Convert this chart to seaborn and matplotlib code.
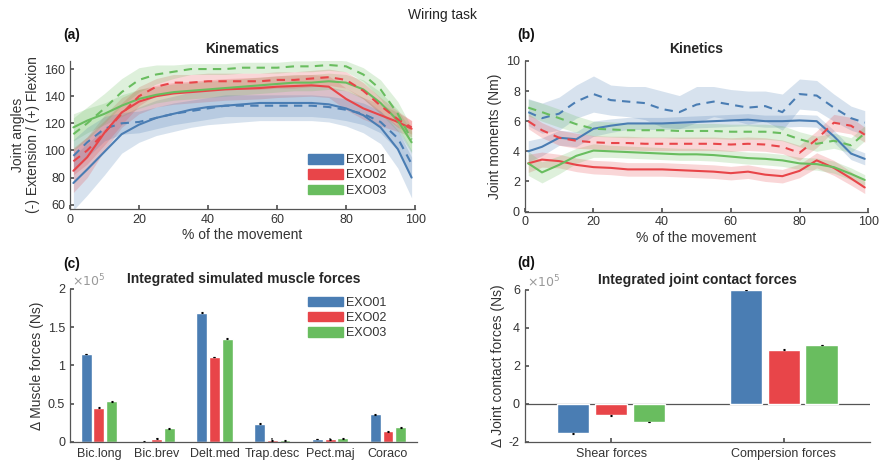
import numpy as np
import pandas as pd
import seaborn as sns
import matplotlib.pyplot as plt
from matplotlib.patches import Patch
from matplotlib.ticker import FuncFormatter

# ---- data ----
devices = ["EXO01", "EXO02", "EXO03"]
colors = ["#4a7db3", "#e84549", "#69bd5f"]

pct = [1, 5, 10, 15, 20, 25, 30, 35, 40, 45, 50, 55, 60, 65, 70, 75, 80, 85, 90, 95, 99]

# (a) kinematics, joint angles (deg): solid / dashed mean and band half width
kin_exo01 = [76, 86, 99, 112, 119, 124, 127, 130, 132, 133, 134, 135, 135, 135, 135, 134, 131, 126, 117, 101, 80]
kin_exo01_d = [96, 106, 116, 120, 121, 124, 127, 129, 131, 133, 133, 133, 133, 133, 133, 132, 130, 127, 121, 109, 90]
kin_exo02 = [85, 95, 113, 128, 136, 140, 142, 143, 144, 145, 145.5, 146, 147, 147.5, 148, 147, 138, 131, 126, 121, 116]
kin_exo02_d = [92, 100, 113, 127, 140, 147, 150, 150, 151, 151, 151, 151, 152, 152, 153, 154, 152, 144, 133, 123, 117]
kin_exo03 = [117, 122, 127, 133, 138, 141, 143, 144, 145, 146, 147, 148, 149, 150, 150, 151, 150, 145, 135, 122, 106]
kin_exo03_d = [112, 120, 131, 143, 152, 156, 158, 160, 160, 160, 161, 161, 161, 162, 162, 163, 162, 156, 145, 127, 108]

kin_sd01 = [20, 19, 17, 14, 13, 13, 13, 13, 13, 13, 13, 13, 13, 13, 13, 13, 13, 13, 12, 14, 15]
kin_sd01_d = [12, 11, 9, 8, 8, 8, 8, 8, 8, 8, 8, 8, 8, 8, 8, 8, 8, 8, 8, 9, 10]
kin_sd02 = [16, 15, 13, 11, 9, 8, 8, 8, 8, 8, 8, 8, 8, 8, 8, 8, 8, 8, 8, 7, 6]
kin_sd02_d = [10, 10, 9, 8, 7, 6, 6, 6, 6, 6, 6, 6, 6, 6, 6, 6, 6, 6, 6, 6, 5]
kin_sd03 = [10, 9, 8, 8, 7, 6, 6, 6, 6, 6, 6, 6, 6, 6, 6, 6, 6, 7, 8, 8, 8]
kin_sd03_d = [12, 12, 11, 10, 9, 7, 5, 4, 4, 4, 4, 4, 4, 4, 4, 4, 4, 5, 7, 9, 9]

# (b) kinetics, joint moments (Nm)
mom_exo01 = [4.0, 4.3, 4.9, 4.8, 5.5, 5.7, 5.85, 5.85, 5.85, 5.9, 5.95, 6.0, 6.05, 6.1, 6.0, 6.0, 6.05, 6.0, 5.0, 3.85, 3.5]
mom_exo01_d = [6.6, 6.2, 6.5, 7.3, 7.8, 7.4, 7.3, 7.2, 6.8, 6.6, 7.1, 7.3, 7.1, 6.9, 7.0, 6.6, 7.8, 7.7, 6.9, 6.2, 5.9]
mom_exo02 = [3.2, 3.45, 3.35, 3.1, 2.95, 2.9, 2.8, 2.8, 2.8, 2.75, 2.7, 2.65, 2.55, 2.65, 2.45, 2.35, 2.7, 3.4, 2.9, 2.2, 1.6]
mom_exo02_d = [6.0, 5.4, 4.9, 4.7, 4.6, 4.55, 4.55, 4.5, 4.5, 4.5, 4.5, 4.5, 4.45, 4.5, 4.45, 4.3, 3.9, 4.8, 5.9, 5.7, 5.1]
mom_exo03 = [3.2, 2.6, 3.1, 3.7, 4.05, 4.0, 3.95, 3.9, 3.85, 3.8, 3.8, 3.75, 3.65, 3.55, 3.5, 3.4, 3.2, 3.15, 2.95, 2.5, 2.1]
mom_exo03_d = [6.9, 6.6, 6.2, 5.8, 5.5, 5.45, 5.4, 5.4, 5.4, 5.35, 5.35, 5.35, 5.3, 5.3, 5.3, 5.2, 4.8, 4.5, 4.7, 4.4, 5.2]

mom_sd01 = [0.7, 0.6, 0.5, 0.5, 0.5, 0.45, 0.4, 0.4, 0.4, 0.4, 0.4, 0.4, 0.4, 0.4, 0.4, 0.4, 0.4, 0.4, 0.4, 0.4, 0.4]
mom_sd01_d = [0.9, 1.0, 1.1, 1.1, 1.2, 1.0, 1.0, 1.1, 1.2, 1.1, 1.2, 1.0, 1.0, 1.1, 1.0, 1.2, 1.0, 1.0, 0.9, 0.8, 0.8]
mom_sd02 = [0.6, 0.5, 0.45, 0.45, 0.45, 0.45, 0.45, 0.45, 0.45, 0.45, 0.45, 0.45, 0.45, 0.45, 0.45, 0.45, 0.45, 0.5, 0.5, 0.45, 0.4]
mom_sd02_d = [0.5, 0.5, 0.5, 0.5, 0.45, 0.45, 0.45, 0.45, 0.45, 0.45, 0.45, 0.45, 0.45, 0.45, 0.45, 0.45, 0.5, 0.55, 0.55, 0.55, 0.5]
mom_sd03 = [0.8, 0.7, 0.6, 0.5, 0.45, 0.4, 0.4, 0.4, 0.4, 0.4, 0.4, 0.4, 0.4, 0.4, 0.4, 0.4, 0.4, 0.4, 0.4, 0.4, 0.35]
mom_sd03_d = [0.55, 0.6, 0.6, 0.55, 0.5, 0.5, 0.5, 0.5, 0.5, 0.5, 0.5, 0.5, 0.5, 0.5, 0.5, 0.5, 0.5, 0.5, 0.5, 0.5, 0.5]

# (c) integrated muscle forces (x1e5 Ns)
muscles = ["Bic.long", "Bic.brev", "Delt.med", "Trap.desc", "Pect.maj", "Coraco"]
musc_exo01 = [1.15, 0.005, 1.69, 0.24, 0.04, 0.36]
musc_exo02 = [0.45, 0.045, 1.11, 0.02, 0.035, 0.14]
musc_exo03 = [0.53, 0.18, 1.35, 0.02, 0.05, 0.19]
musc_err = [0.005, 0.005, 0.005, 0.005, 0.005, 0.005]

# (d) integrated joint contact forces (x1e5 Ns)
contacts = ["Shear forces", "Compersion forces"]
cont_exo01 = [-1.55, 6.0]
cont_exo02 = [-0.6, 2.85]
cont_exo03 = [-0.95, 3.1]
cont_err = [0.02, 0.02]

# ---- style ----
sns.set_theme(style="ticks")
plt.rcParams["font.family"] = ["Liberation Sans", "DejaVu Sans"]
axcol = "#555555"
txtcol = "#333333"
plt.rcParams.update({
    "font.size": 10,
    "axes.labelsize": 10,
    "axes.titlesize": 10,
    "legend.fontsize": 9,
    "axes.edgecolor": axcol,
    "axes.labelcolor": txtcol,
    "xtick.color": axcol,
    "ytick.color": axcol,
    "xtick.labelcolor": txtcol,
    "ytick.labelcolor": txtcol,
    "xtick.labelsize": 9,
    "ytick.labelsize": 9,
    "xtick.direction": "in",
    "ytick.direction": "in",
    "xtick.major.size": 3,
    "ytick.major.size": 3,
    "axes.linewidth": 0.9,
})

fig = plt.figure(figsize=(8.85, 4.65), dpi=100)
ax_a = fig.add_axes([0.079, 0.551, 0.390, 0.318])
ax_b = fig.add_axes([0.593, 0.545, 0.388, 0.324])
ax_c = fig.add_axes([0.079, 0.0495, 0.392, 0.329])
ax_d = fig.add_axes([0.593, 0.0495, 0.390, 0.327])


def curves(ax, solid, dashed, sd, sd_d):
    for m, s, c in zip(solid, sd, colors):
        m, s = np.array(m), np.array(s)
        ax.fill_between(pct, m - s, m + s, color=c, alpha=0.22, lw=0)
    for m, s, c in zip(dashed, sd_d, colors):
        m, s = np.array(m), np.array(s)
        ax.fill_between(pct, m - s, m + s, color=c, alpha=0.22, lw=0)
    for m, c in zip(solid, colors):
        sns.lineplot(x=pct, y=m, color=c, lw=1.5, ax=ax)
    for m, c in zip(dashed, colors):
        sns.lineplot(x=pct, y=m, color=c, lw=1.5, ls=(0, (4, 3)), ax=ax)
    ax.set_xlim(0, 100)
    ax.set_xticks([0, 20, 40, 60, 80, 100])
    ax.set_xlabel("% of the movement", labelpad=2)
    sns.despine(ax=ax)


def legend(ax, anchor):
    handles = [Patch(color=c, label=d) for c, d in zip(colors, devices)]
    ax.legend(handles=handles, loc="upper left", bbox_to_anchor=anchor, frameon=False,
              handlelength=2.8, handleheight=0.8, handletextpad=0.25, labelspacing=0.25,
              borderpad=0, borderaxespad=0, fontsize=9, labelcolor=txtcol)


# (a)
curves(ax_a, [kin_exo01, kin_exo02, kin_exo03], [kin_exo01_d, kin_exo02_d, kin_exo03_d],
       [kin_sd01, kin_sd02, kin_sd03], [kin_sd01_d, kin_sd02_d, kin_sd03_d])
ax_a.set_ylim(57, 166)
ax_a.set_yticks([60, 80, 100, 120, 140, 160])
ax_a.set_ylabel("Joint angles\n(-) Extension / (+) Flexion", labelpad=3, linespacing=1.1)
ax_a.set_title("Kinematics", fontweight="bold", pad=6)
legend(ax_a, (0.69, 0.37))

# (b)
curves(ax_b, [mom_exo01, mom_exo02, mom_exo03], [mom_exo01_d, mom_exo02_d, mom_exo03_d],
       [mom_sd01, mom_sd02, mom_sd03], [mom_sd01_d, mom_sd02_d, mom_sd03_d])
ax_b.set_ylim(0, 10)
ax_b.set_yticks([0, 2, 4, 6, 8, 10])
ax_b.set_ylabel("Joint moments (Nm)", labelpad=3)
ax_b.set_title("Kinetics", fontweight="bold", pad=6)


def bars(ax, cats, vals, errs):
    df = pd.DataFrame({
        "cat": cats * 3,
        "device": sum([[d] * len(cats) for d in devices], []),
        "val": vals[0] + vals[1] + vals[2],
    })
    sns.barplot(data=df, x="cat", y="val", hue="device", palette=colors, saturation=1,
                width=0.66, gap=0.15, errorbar=None, legend=False, ax=ax)
    for cont in list(ax.containers):
        for bar, e in zip(cont, errs):
            top = bar.get_y() + bar.get_height()
            ax.errorbar(bar.get_x() + bar.get_width() / 2, top, yerr=e, color="black",
                        lw=0.8, capsize=1, capthick=0.8)
    ax.set_xlim(-0.5, len(cats) - 0.5)
    ax.set_xlabel("")
    ax.tick_params(axis="x", pad=4)
    ax.yaxis.set_major_formatter(FuncFormatter(lambda v, p: "%g" % v))
    ax.text(0.005, 1.0, r"$\times10^5$", transform=ax.transAxes, ha="left", va="bottom",
            color="#999999", fontsize=9)
    sns.despine(ax=ax)


# (c)
bars(ax_c, muscles, [musc_exo01, musc_exo02, musc_exo03], musc_err)
ax_c.set_ylim(0, 2)
ax_c.set_yticks([0, 0.5, 1, 1.5, 2])
ax_c.set_ylabel("Δ Muscle forces (Ns)", labelpad=3)
ax_c.set_title("Integrated simulated muscle forces", fontweight="bold", pad=4)
legend(ax_c, (0.685, 0.95))

# (d)
ax_d.axhline(0, color=axcol, lw=0.9, zorder=0)
bars(ax_d, contacts, [cont_exo01, cont_exo02, cont_exo03], cont_err)
ax_d.set_ylim(-2, 6)
ax_d.set_yticks([-2, 0, 2, 4, 6])
ax_d.set_ylabel("Δ Joint contact forces (Ns)", labelpad=3)
ax_d.set_title("Integrated joint contact forces", fontweight="bold", pad=4)

# labels
fig.text(0.5, 0.968, "Wiring task", ha="center", va="center", fontsize=10, color="#222222")
for lab, x, y in [("(a)", 0.071, 0.925), ("(b)", 0.585, 0.925), ("(c)", 0.071, 0.432), ("(d)", 0.585, 0.435)]:
    fig.text(x, y, lab, fontweight="bold", fontsize=10, ha="left", va="center", color="#111111")

fig.savefig("out.png", dpi=100)
